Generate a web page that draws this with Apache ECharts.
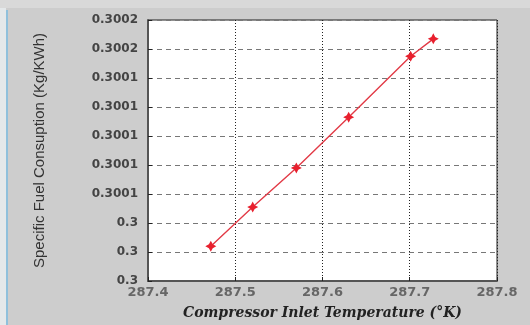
<!DOCTYPE html>
<html>
<head>
<meta charset="utf-8">
<script src="https://cdn.jsdelivr.net/npm/echarts@6/dist/echarts.min.js"></script>
<style>html,body{margin:0;padding:0;background:#cdcdcd;}#c{width:530px;height:325px;}</style>
</head>
<body>
<div id="c"></div>
<script>
var temperature = [287.472, 287.520, 287.570, 287.630, 287.701, 287.727];
var sfc = [0.300024, 0.300051, 0.300078, 0.300113, 0.300155, 0.300167];
var xTicks = [287.4, 287.5, 287.6, 287.7, 287.8];
var yMin = 0.3, yMax = 0.30018, yStep = 0.00002;

var chart = echarts.init(document.getElementById('c'));
chart.setOption({
  backgroundColor: '#cdcdcd',
  animation: false,
  graphic: [
    {type: 'rect', shape: {x: 0, y: 0, width: 6, height: 325}, style: {fill: '#e4e8ea'}, z: 0},
    {type: 'rect', shape: {x: 6, y: 10, width: 2, height: 315}, style: {fill: '#8fc0dc'}, z: 0},
    {type: 'rect', shape: {x: 0, y: 0, width: 530, height: 8}, style: {fill: '#d9d9d9'}, z: 0}
  ],
  grid: {left: 148, right: 33, top: 20, bottom: 35, show: true, backgroundColor: '#ffffff', borderColor: '#222', borderWidth: 1},
  xAxis: {
    type: 'value', min: xTicks[0], max: xTicks[xTicks.length - 1], interval: 0.1,
    name: 'Compressor Inlet Temperature (°K)', nameLocation: 'middle', nameGap: 25,
    nameTextStyle: {fontFamily: 'DejaVu Serif', fontStyle: 'italic', fontWeight: 'bold', fontSize: 14, color: '#222'},
    axisLine: {show: true, lineStyle: {color: '#555', width: 2}},
    axisTick: {show: true, inside: true, length: 4, lineStyle: {color: '#222'}},
    axisLabel: {color: '#666', fontFamily: 'DejaVu Sans', fontWeight: 'bold', fontSize: 13, margin: 5,
      formatter: function (v) { return v.toFixed(1); }},
    splitLine: {show: true, lineStyle: {color: '#222', type: [1, 2], width: 1}}
  },
  yAxis: {
    type: 'value', min: yMin, max: yMax, interval: yStep,
    name: 'Specific Fuel Consuption (Kg/KWh)', nameLocation: 'middle', nameGap: 101, nameRotate: 90,
    nameTextStyle: {fontFamily: 'Liberation Sans', fontSize: 15, color: '#333'},
    axisLine: {show: true, lineStyle: {color: '#555', width: 2}},
    axisTick: {show: true, inside: true, length: 4, lineStyle: {color: '#222'}},
    axisLabel: {color: '#444', fontFamily: 'DejaVu Sans', fontWeight: 'bold', fontSize: 12, margin: 10,
      formatter: function (v) { return String(Number(v.toFixed(4))); }},
    splitLine: {show: true, lineStyle: {color: '#777', type: [5, 4], width: 1}}
  },
  series: [{
    type: 'line',
    data: temperature.map(function (t, i) { return [t, sfc[i]]; }),
    lineStyle: {color: '#e23a46', width: 1.4},
    itemStyle: {color: '#e8202e'},
    symbol: 'path://M0,-10 L3.5,-3.5 L10,0 L3.5,3.5 L0,10 L-3.5,3.5 L-10,0 L-3.5,-3.5 Z',
    symbolSize: 11,
    showSymbol: true
  }]
});
</script>
</body>
</html>
